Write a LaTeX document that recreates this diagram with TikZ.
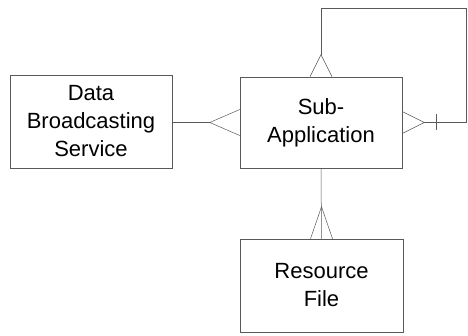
\documentclass[tikz,border=0pt]{standalone}
\usepackage{fontspec}
\setmainfont{Liberation Sans}
\tikzset{box/.style={draw=black!65, line width=0.5pt, align=center, inner sep=0pt,
  font=\fontsize{22}{28}\selectfont},
  link/.style={draw=black!65, line width=0.5pt}}

\begin{document}
\begin{tikzpicture}[x=1pt,y=-1pt]
\useasboundingbox (0,0) rectangle (468,336);
\node[box, minimum width=162pt, minimum height=93pt] (dbs) at (91,121.5) {Data\\Broadcasting\\Service};
\node[box, minimum width=162pt, minimum height=91pt] (sub) at (321,122.5) {Sub-\\Application};
\node[box, minimum width=163pt, minimum height=93pt] (res) at (321.5,285.5) {Resource\\File};
% triangle tips
\coordinate (lt) at ([xshift=-30pt]sub.west);
\coordinate (tt) at ([yshift=22pt]sub.north);
\coordinate (rt) at ([xshift=22pt]sub.east);
\coordinate (bt) at ([yshift=32pt]res.north);
\coordinate (loopc) at (466,8);
\draw[link] ([yshift=13pt]sub.west) -- (lt) -- ([yshift=-13pt]sub.west);
\draw[link] ([xshift=-11pt]sub.north) -- (tt) -- ([xshift=11pt]sub.north);
\draw[link] ([yshift=11pt]sub.east) -- (rt) -- ([yshift=-11pt]sub.east);
\draw[link] ([xshift=-11pt]res.north) -- (bt) -- ([xshift=11pt]res.north);
% connectors
\draw[link] (lt -| dbs.east) -- (lt);
\draw[link] (tt) |- (loopc) |- (rt);
\draw[link] ([xshift=12pt]rt) ++(0,-8) -- ++(0,16);
\draw[link] (sub.south) -- (res.north);
\end{tikzpicture}
\end{document}
